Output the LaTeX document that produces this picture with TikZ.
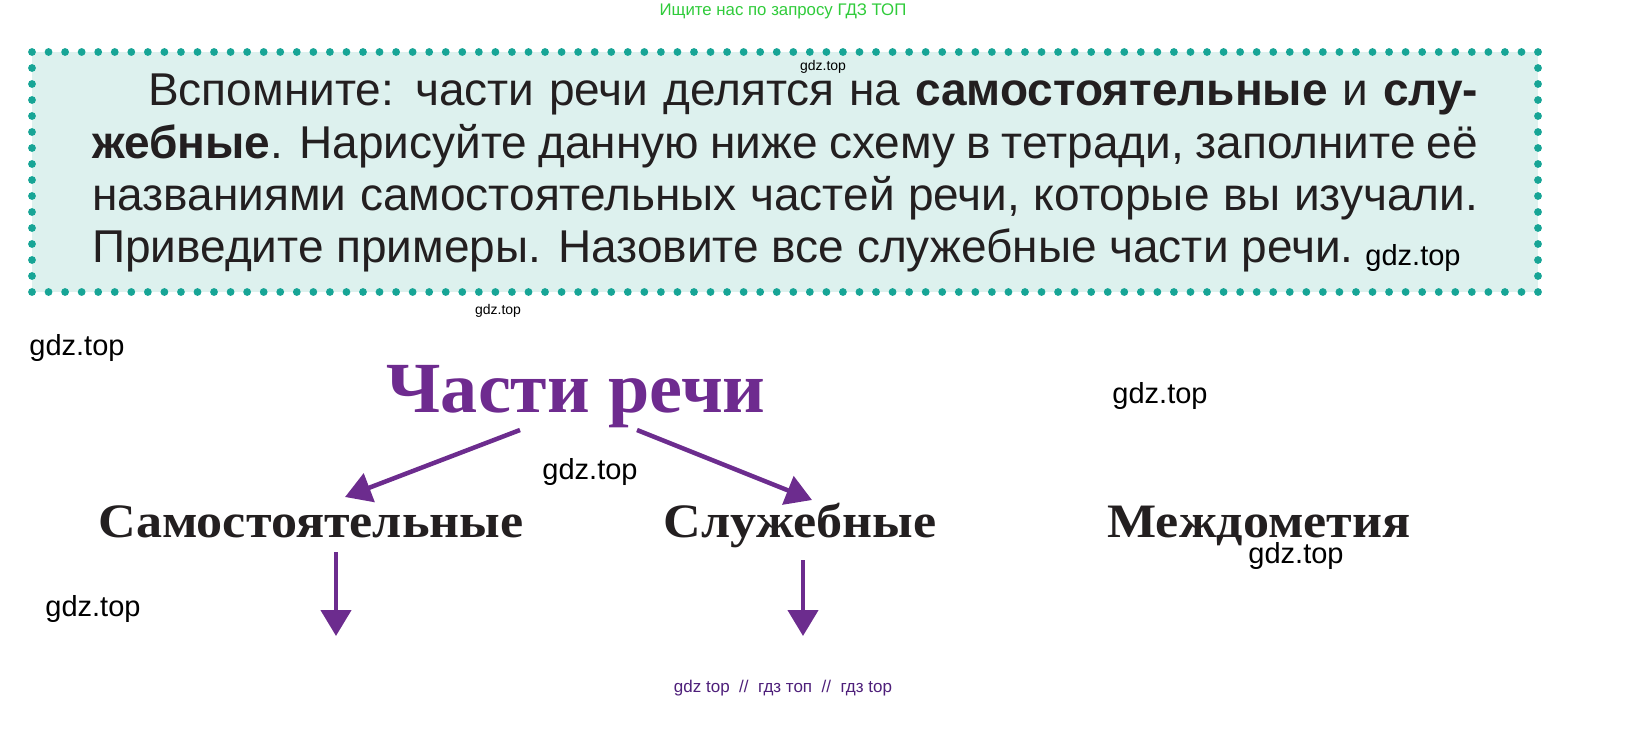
\documentclass[tikz,border=0pt]{standalone}
\usepackage{fontspec}
\setmainfont{Liberation Serif}
\setsansfont{Liberation Sans}
\newfontfamily\wmfont{Liberation Sans}
\usetikzlibrary{arrows.meta,calc}
\definecolor{teal1}{HTML}{17A596}
\definecolor{tealfill}{HTML}{DDF1EE}
\definecolor{ttlpurple}{HTML}{6E2B8F}
\definecolor{arrpurple}{HTML}{6C2C8E}
\definecolor{dark}{HTML}{231F20}
\definecolor{grn}{HTML}{2FCB3A}
\definecolor{footp}{HTML}{4E1F7A}
\begin{document}
\begin{tikzpicture}[x=1pt,y=-1pt,
  body/.style={inner sep=0pt,anchor=base west,font=\sffamily\fontsize{46}{52}\selectfont,text=dark},
  wm/.style={inner sep=0pt,font=\wmfont\fontsize{29}{30}\selectfont,text=black},
  wms/.style={inner sep=0pt,font=\wmfont\fontsize{14}{15}\selectfont,text=black},
  lbl/.style={inner sep=0pt,anchor=base,font=\bfseries\fontsize{48}{50}\selectfont,text=dark},
  arr/.style={draw=arrpurple,line width=4.5pt,-{Triangle[length=26pt,width=30pt]}},
  dot/.style={fill=teal1}
]
\useasboundingbox (0,0) rectangle (1643,736);
% box fill
\fill[tealfill] (32,52) rectangle (1538,292);
% dotted border
\foreach \i in {0,...,91} {
  \fill[dot] ({32+\i*16.5495},52) circle (3.9pt);
  \fill[dot] ({32+\i*16.5495},292) circle (3.9pt);
}
\foreach \j in {1,...,14} {
  \fill[dot] (32,{52+\j*16}) circle (3.9pt);
  \fill[dot] (1538,{52+\j*16}) circle (3.9pt);
}
% top green text
\node[inner sep=0pt,font=\wmfont\fontsize{16.8}{18}\selectfont,text=grn] (top) at (783,11) {Ищите нас по запросу ГДЗ ТОП};
% body text
\node[body] (l1) at (148,105) {\makebox[1330pt][s]{Вспомните: части речи делятся на \textbf{самостоятельные} и \textbf{слу-}}};
\node[body] (l2) at (92,158) {\makebox[1386pt][s]{\textbf{жебные}. Нарисуйте данную ниже схему в тетради, заполните её}};
\node[body] (l3) at (92,210) {\makebox[1386pt][s]{названиями самостоятельных частей речи, которые вы изучали.}};
\node[body] (l4) at (92,262) {Приведите примеры. Назовите все служебные части речи.};
% watermarks
\node[wms] (w1) at (823,67) {gdz.top};
\node[wms] (w2) at (498,311) {gdz.top};
\node[wm] (w3) at (1413,258) {gdz.top};
\node[wm] (w4) at (77,348) {gdz.top};
\node[wm] (w5) at (1160,396) {gdz.top};
\node[wm] (w6) at (590,472) {gdz.top};
\node[wm] (w7) at (1296,556) {gdz.top};
\node[wm] (w8) at (93,609) {gdz.top};
% diagram
\node[inner sep=0pt,anchor=base,font=\bfseries\fontsize{72}{74}\selectfont,text=ttlpurple] (title) at (576,412) {\scalebox{1.03}[1]{Части речи}};
\node[lbl] (sam) at (311,537) {\scalebox{1.085}[1]{Самостоятельные}};
\node[lbl] (slu) at (800,537) {\scalebox{1.085}[1]{Служебные}};
\node[lbl] (mez) at (1259,537) {\scalebox{1.085}[1]{Междометия}};
\coordinate (t1) at (520,430);
\coordinate (t2) at (637,430);
\coordinate (s1) at (345,497);
\coordinate (s2) at (812,500);
\coordinate (b1) at (336,552);
\coordinate (e1) at (336,636);
\coordinate (b2) at (803,560);
\coordinate (e2) at (803,636);
\draw[arr] (t1) -- (s1);
\draw[arr] (t2) -- (s2);
\draw[arr] (b1) -- (e1);
\draw[arr] (b2) -- (e2);
% footer
\node[inner sep=0pt,font=\wmfont\fontsize{17}{18}\selectfont,text=footp] (foot) at (783,688) {gdz top \ // \ гдз топ \ // \ гдз top};
\end{tikzpicture}
\end{document}
